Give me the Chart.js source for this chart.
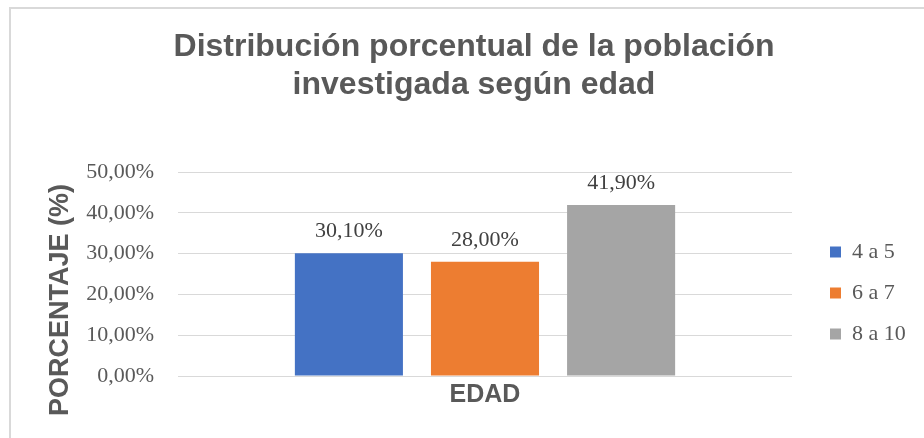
<!DOCTYPE html>
<html>
<head>
<meta charset="utf-8">
<script src="https://cdn.jsdelivr.net/npm/chart.js@4"></script>
<style>
  body { margin: 0; background: #fff; }
  #wrap { position: relative; width: 924px; height: 438px; overflow: hidden; }
  #marco { position: absolute; left: 9px; top: 7px; width: 1000px; height: 500px;
           border: 2px solid #d9d9d9; pointer-events: none; }
</style>
</head>
<body>
<div id="wrap">
  <canvas id="edadChart" width="924" height="438"></canvas>
  <div id="marco"></div>
</div>
<script>
// Datos del gráfico
var categorias = [''];
var series = ['4 a 5', '6 a 7', '8 a 10'];
var valores = [30.10, 28.00, 41.90];
var colores = ['#4472c4', '#ed7d31', '#a5a5a5'];
var ticksY = [0, 10, 20, 30, 40, 50];

var serif = "'Liberation Serif', 'Times New Roman', serif";
var sans = "'Liberation Sans', Arial, sans-serif";

function formatoPct(v) {
    return v.toFixed(2).replace('.', ',') + '%';
}

// Etiquetas de datos sobre cada barra
var etiquetasPlugin = {
    id: 'etiquetas',
    afterDatasetsDraw: function(chart) {
        var ctx = chart.ctx;
        ctx.save();
        ctx.font = '22px ' + serif;
        ctx.fillStyle = '#404040';
        ctx.textAlign = 'center';
        ctx.textBaseline = 'alphabetic';
        chart.data.datasets.forEach(function(ds, i) {
            chart.getDatasetMeta(i).data.forEach(function(bar, j) {
                ctx.fillText(formatoPct(ds.data[j]), bar.x, bar.y - 16);
            });
        });
        ctx.restore();
    }
};

// Título del eje Y y ajuste de la leyenda
var ejesPlugin = {
    id: 'ejes',
    beforeLayout: function(chart) {
        var lg = chart.legend;
        if (lg && !lg._fijo) {
            var fit = lg.fit;
            lg.fit = function() {
                fit.call(this);
                this.width = 132;
            };
            lg._fijo = true;
        }
    },
    afterLayout: function(chart) {
        var lg = chart.legend;
        lg.left += 19;
        lg.right += 19;
        lg.top = 222;
        lg.bottom = 438;
    },
    afterDraw: function(chart) {
        var ctx = chart.ctx;
        ctx.save();
        ctx.translate(68, 300);
        ctx.rotate(-Math.PI / 2);
        ctx.font = 'bold 27px ' + sans;
        ctx.fillStyle = '#595959';
        ctx.textAlign = 'center';
        ctx.textBaseline = 'alphabetic';
        ctx.fillText('PORCENTAJE (%)', 0, 0);
        ctx.restore();
    }
};

var datasets = series.map(function(nombre, i) {
    return {
        label: nombre,
        data: [valores[i]],
        backgroundColor: colores[i],
        borderWidth: 0,
        categoryPercentage: 0.665,
        barPercentage: 0.794
    };
});

var ctx = document.getElementById('edadChart').getContext('2d');
var edadChart = new Chart(ctx, {
    type: 'bar',
    data: {
        labels: categorias,
        datasets: datasets
    },
    plugins: [etiquetasPlugin, ejesPlugin],
    options: {
        responsive: false,
        animation: false,
        devicePixelRatio: 1,
        layout: {
            padding: { left: 24, right: 0, top: 0, bottom: 0 }
        },
        scales: {
            x: {
                grid: { display: false },
                border: { display: false },
                ticks: { display: false },
                title: {
                    display: true,
                    text: 'EDAD',
                    color: '#595959',
                    font: { family: sans, size: 25, weight: 'bold' },
                    padding: { top: 0, bottom: 28 }
                },
                afterFit: function(scale) {
                    scale.height = 62;
                }
            },
            y: {
                min: 0,
                max: 50,
                afterBuildTicks: function(scale) {
                    scale.ticks = ticksY.map(function(v) { return { value: v }; });
                },
                grid: {
                    color: '#d9d9d9',
                    lineWidth: 1,
                    drawTicks: false
                },
                border: { display: false },
                ticks: {
                    padding: 24,
                    color: '#595959',
                    font: { family: serif, size: 22 },
                    callback: function(value) {
                        return formatoPct(value);
                    }
                },
                afterFit: function(scale) {
                    scale.width = 154;
                }
            }
        },
        plugins: {
            title: {
                display: true,
                text: ['Distribución porcentual de la población', 'investigada según edad'],
                color: '#595959',
                font: { family: sans, size: 32, weight: 'bold', lineHeight: 1.2 },
                padding: { top: 28, bottom: 67.2 }
            },
            legend: {
                display: true,
                position: 'right',
                align: 'start',
                fullSize: false,
                labels: {
                    boxWidth: 11,
                    boxHeight: 11,
                    padding: 19,
                    color: '#595959',
                    font: { family: serif, size: 22 }
                }
            },
            tooltip: { enabled: false }
        }
    }
});
</script>
</body>
</html>
